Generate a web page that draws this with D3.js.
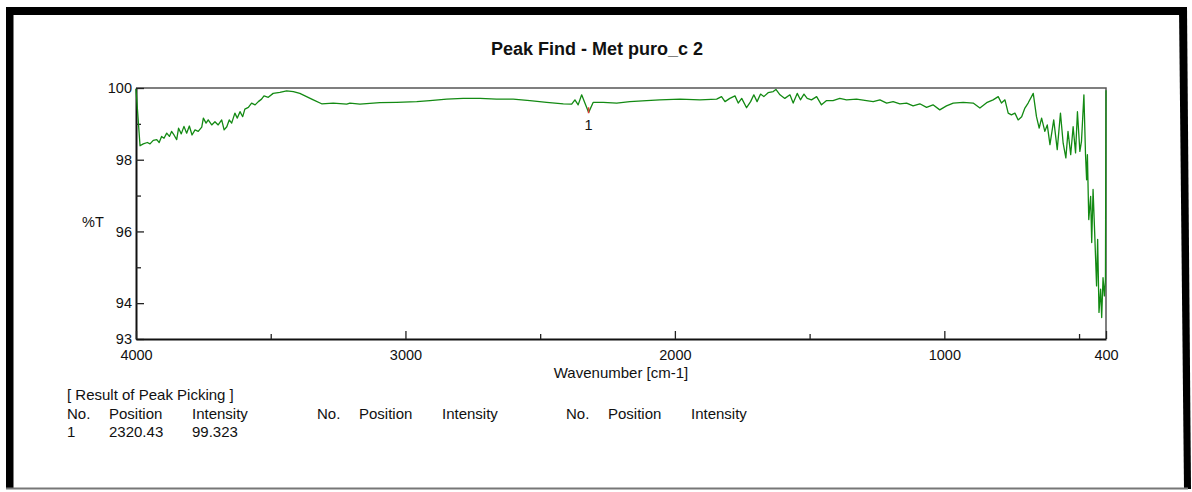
<!DOCTYPE html>
<html>
<head>
<meta charset="utf-8">
<script src="https://cdn.jsdelivr.net/npm/d3@7"></script>
<style>
body { margin: 0; background: #fff; }
svg { display: block; font-family: "Liberation Sans", Arial, sans-serif; }
</style>
</head>
<body>
<div id="draw_area"></div>
<script>
// spectrum, high wavenumber first
var wavenumber = [
	4000, 3985, 3973, 3958, 3948, 3936, 3923, 3914, 3905, 3896, 3886, 3876, 3868, 3859, 3849, 3842,
	3832, 3822, 3812, 3802, 3792, 3781, 3769, 3756, 3750, 3740, 3732, 3719, 3707, 3695, 3682, 3673,
	3663, 3654, 3645, 3633, 3624, 3614, 3604, 3596, 3583, 3571, 3558, 3546, 3534, 3525, 3509, 3491,
	3466, 3441, 3416, 3392, 3367, 3342, 3311, 3268, 3218, 3206, 3169, 3095, 3033, 2958, 2909, 2847,
	2786, 2723, 2662, 2600, 2538, 2476, 2414, 2383, 2371, 2359, 2346, 2334, 2320, 2303, 2266, 2216,
	2167, 2105, 2056, 1981, 1907, 1845, 1827, 1814, 1796, 1777, 1765, 1752, 1734, 1719, 1707, 1695,
	1682, 1670, 1654, 1635, 1625, 1610, 1592, 1573, 1561, 1546, 1534, 1521, 1509, 1493, 1474, 1456,
	1437, 1413, 1388, 1363, 1326, 1289, 1264, 1239, 1214, 1190, 1165, 1140, 1116, 1091, 1066, 1042,
	1017, 992, 967, 930, 893, 868, 843, 819, 800, 788, 775, 763, 751, 738, 726, 713,
	701, 689, 670, 658, 648, 639, 627, 618, 608, 594, 581, 569, 559, 549, 541, 531,
	522, 513, 506, 497, 491, 482, 476, 472, 469, 464, 457, 453, 448, 442, 435, 431,
	426, 420, 416, 411, 406, 402, 400
];
var transmittance = [
	99.97, 98.39, 98.44, 98.48, 98.44, 98.54, 98.56, 98.48, 98.65, 98.60, 98.74, 98.65, 98.79, 98.69, 98.56, 98.88,
	98.72, 98.93, 98.74, 98.94, 98.69, 98.83, 98.79, 98.91, 99.16, 99.02, 99.11, 98.97, 99.06, 98.97, 99.11, 98.83,
	98.92, 99.11, 99.02, 99.30, 99.16, 99.34, 99.20, 99.41, 99.46, 99.58, 99.53, 99.62, 99.69, 99.78, 99.74, 99.85,
	99.88, 99.92, 99.90, 99.85, 99.76, 99.67, 99.56, 99.58, 99.55, 99.58, 99.55, 99.59, 99.60, 99.62, 99.65, 99.69,
	99.71, 99.71, 99.69, 99.69, 99.65, 99.60, 99.56, 99.55, 99.67, 99.53, 99.81, 99.58, 99.32, 99.60, 99.60, 99.58,
	99.62, 99.65, 99.67, 99.69, 99.67, 99.69, 99.76, 99.62, 99.71, 99.78, 99.58, 99.71, 99.45, 99.62, 99.81, 99.62,
	99.83, 99.76, 99.87, 99.90, 99.96, 99.81, 99.71, 99.81, 99.58, 99.85, 99.67, 99.83, 99.71, 99.67, 99.76, 99.53,
	99.65, 99.65, 99.71, 99.67, 99.69, 99.65, 99.62, 99.67, 99.58, 99.62, 99.56, 99.58, 99.50, 99.56, 99.46, 99.53,
	99.39, 99.50, 99.58, 99.60, 99.58, 99.44, 99.59, 99.67, 99.76, 99.58, 99.67, 99.30, 99.25, 99.30, 99.11, 99.20,
	99.44, 99.58, 99.85, 99.20, 98.88, 99.16, 98.79, 98.97, 98.42, 99.11, 98.28, 99.30, 98.46, 98.05, 98.79, 98.14,
	98.92, 98.19, 99.34, 98.23, 98.51, 99.81, 98.14, 97.44, 98.14, 96.33, 96.98, 95.69, 97.17, 95.96, 94.48, 95.78,
	93.74, 94.39, 93.60, 94.71, 94.20, 94.67, 99.94
];

var xTickLabels = [4000, 3000, 2000, 1000, 400];
var xMinorTicks = [3500, 2500, 1500, 500];
var yTickLabels = [100, 98, 96, 94, 93];
var yMinorTicks = [99, 97, 95];

var peakNo = [1];
var peakPosition = [2320.43];
var peakIntensity = [99.323];

var tableTitle = '[ Result of Peak Picking ]';
var tableHeader = ['No.', 'Position', 'Intensity'];

var W = 1192, H = 492;
var svg = d3.select('#draw_area').append('svg')
	.attr('width', W)
	.attr('height', H);

svg.append('rect').attr('width', W).attr('height', H).attr('fill', '#fff');

// black picture frame (right edge leans a little)
svg.append('rect').attr('x', 6).attr('y', 7).attr('width', 7.5).attr('height', 482).attr('fill', '#000');
svg.append('rect').attr('x', 6).attr('y', 7).attr('width', 1181).attr('height', 8).attr('fill', '#000');
svg.append('polygon')
	.attr('points', '1179,7 1187,7 1191,489 1184,489')
	.attr('fill', '#000');
svg.append('line')
	.attr('x1', 6).attr('x2', 1188).attr('y1', 488.5).attr('y2', 488.5)
	.attr('stroke', '#777').attr('stroke-width', 2);

var x = d3.scaleLinear().domain([4000, 400]).range([136, 1106]);
var y = d3.scaleLinear().domain([93, 100]).range([339, 88]);

// title
svg.append('text')
	.attr('x', 597).attr('y', 55)
	.attr('text-anchor', 'middle')
	.style('font-weight', 'bold')
	.style('font-size', '18px')
	.attr('fill', '#111')
	.text('Peak Find - Met puro_c 2');

// top and right border of the plot
svg.append('path')
	.attr('d', `M${x(4000)},${y(100)}H${x(400)}V${y(93)}`)
	.attr('fill', 'none')
	.attr('stroke', '#555')
	.attr('stroke-width', 1.5);

var fs = '14.5px';

var yAxis = svg.append('g')
	.attr('transform', `translate(${x(4000)},0)`)
	.call(d3.axisLeft(y).tickValues(yTickLabels).tickSize(-8).tickSizeOuter(0).tickPadding(4).tickFormat(d3.format('d')));
yAxis.select('.domain').attr('stroke', '#111').attr('stroke-width', 2);
yAxis.selectAll('.tick line').attr('stroke', '#222').attr('stroke-width', 1.3);
yAxis.selectAll('.tick text').style('font-size', fs).attr('fill', '#111');

var yMinor = svg.append('g')
	.attr('transform', `translate(${x(4000)},0)`)
	.call(d3.axisLeft(y).tickValues(yMinorTicks).tickSize(-5).tickFormat(''));
yMinor.select('.domain').remove();
yMinor.selectAll('.tick line').attr('stroke', '#222').attr('stroke-width', 1.3);

var xAxis = svg.append('g')
	.attr('transform', `translate(0,${y(93)})`)
	.call(d3.axisBottom(x).tickValues(xTickLabels).tickSize(-8).tickSizeOuter(0).tickPadding(11).tickFormat(d3.format('d')));
xAxis.select('.domain').attr('stroke', '#111').attr('stroke-width', 2);
xAxis.selectAll('.tick line').attr('stroke', '#222').attr('stroke-width', 1.3);
xAxis.selectAll('.tick text').style('font-size', fs).attr('fill', '#111');

var xMinor = svg.append('g')
	.attr('transform', `translate(0,${y(93)})`)
	.call(d3.axisBottom(x).tickValues(xMinorTicks).tickSize(-5).tickFormat(''));
xMinor.select('.domain').remove();
xMinor.selectAll('.tick line').attr('stroke', '#222').attr('stroke-width', 1.3);

svg.append('text')
	.attr('x', 82).attr('y', 227)
	.style('font-size', fs)
	.attr('fill', '#111')
	.text('%T');

svg.append('text')
	.attr('x', (x(4000) + x(400)) / 2).attr('y', 378)
	.attr('text-anchor', 'middle')
	.style('font-size', '15px')
	.attr('fill', '#111')
	.text('Wavenumber [cm-1]');

// spectrum
var line = d3.line()
	.x((d) => x(d[0]))
	.y((d) => y(d[1]));

svg.append('path')
	.datum(d3.zip(wavenumber, transmittance))
	.attr('d', line)
	.attr('fill', 'none')
	.attr('stroke', '#138a13')
	.attr('stroke-width', 1.3)
	.attr('stroke-linejoin', 'round');

// peak markers
var peaks = peakNo.map((n, i) => ({ no: n, pos: peakPosition[i], val: peakIntensity[i] }));
svg.selectAll('.peak-mark').data(peaks).enter().append('line')
	.attr('class', 'peak-mark')
	.attr('x1', (d) => x(d.pos)).attr('x2', (d) => x(d.pos))
	.attr('y1', (d) => y(d.val) - 5).attr('y2', (d) => y(d.val) + 1)
	.attr('stroke', '#e8383a')
	.attr('stroke-width', 1.5);
svg.selectAll('.peak-label').data(peaks).enter().append('text')
	.attr('class', 'peak-label')
	.attr('x', (d) => x(d.pos)).attr('y', (d) => y(d.val) + 17.5)
	.attr('text-anchor', 'middle')
	.style('font-size', fs)
	.attr('fill', '#111')
	.text((d) => d.no);

// peak table
var tfs = '15px';
svg.append('text')
	.attr('x', 67).attr('y', 400)
	.style('font-size', tfs).attr('fill', '#111')
	.text(tableTitle);

var groupX = [67, 317, 566];
var colOffset = [0, 42, 125];
groupX.forEach(function (gx) {
	tableHeader.forEach(function (h, j) {
		svg.append('text')
			.attr('x', gx + colOffset[j]).attr('y', 418.5)
			.style('font-size', tfs).attr('fill', '#111')
			.text(h);
	});
});

peaks.forEach(function (p, i) {
	var cells = [p.no, p.pos.toFixed(2), p.val.toFixed(3)];
	cells.forEach(function (c, j) {
		svg.append('text')
			.attr('x', groupX[0] + colOffset[j]).attr('y', 437 + i * 18.5)
			.style('font-size', tfs).attr('fill', '#111')
			.text(c);
	});
});
</script>
</body>
</html>
